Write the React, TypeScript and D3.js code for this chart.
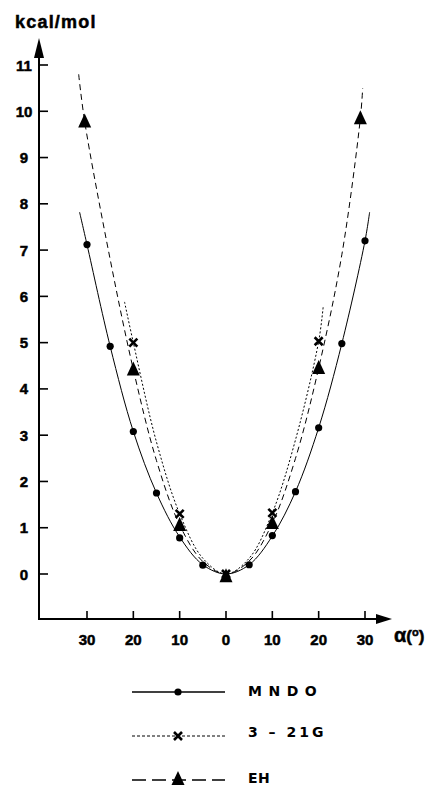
import React from "react";
import * as d3 from "d3";

// Marker data (angle in degrees, energy kcal/mol)
const mndoX = [-30, -25, -20, -15, -10, -5, 0, 5, 10, 15, 20, 25, 30];
const mndoY = [7.12, 4.92, 3.08, 1.75, 0.78, 0.19, -0.05, 0.2, 0.83, 1.78, 3.16, 4.98, 7.2];
const g321X = [-20, -10, 0, 10, 20];
const g321Y = [5.0, 1.3, 0.0, 1.32, 5.03];
const ehX = [-30.5, -20, -10, 0, 10, 20, 29];
const ehY = [9.78, 4.42, 1.06, -0.05, 1.1, 4.45, 9.85];

// Curve points (fitted lines as drawn, including their extended ends)
const mndoCurveX = [-31.6, -30, -25, -20, -15, -10, -5, 0, 5, 10, 15, 20, 25, 30, 31];
const mndoCurveY = [7.82, 7.12, 4.92, 3.08, 1.75, 0.8, 0.2, 0.0, 0.2, 0.82, 1.78, 3.16, 4.98, 7.2, 7.82];
const g321CurveX = [-21.9, -20, -15, -10, -5, 0, 5, 10, 15, 20, 21];
const g321CurveY = [5.88, 5.0, 2.85, 1.3, 0.34, 0.0, 0.34, 1.32, 2.9, 5.03, 5.8];
const ehCurveX = [-31.8, -30.5, -25, -20, -15, -10, -5, 0, 5, 10, 15, 20, 25, 29, 29.5];
const ehCurveY = [10.8, 9.78, 6.8, 4.42, 2.45, 1.06, 0.27, 0.0, 0.28, 1.1, 2.5, 4.45, 6.9, 9.85, 10.5];

const xTicks = [-30, -20, -10, 0, 10, 20, 30];
const yTicks = [0, 1, 2, 3, 4, 5, 6, 7, 8, 9, 10, 11];

const legendLabels = ["MNDO", "3 – 21G", "EH"];

const FONT = "'Liberation Sans', Arial, Helvetica, sans-serif";
const LEGFONT = "'DejaVu Sans', 'Liberation Sans', sans-serif";

export default function App() {
  const W = 441, H = 788;
  const x = d3.scaleLinear().domain([-30, 30]).range([87, 365]);
  const y = d3.scaleLinear().domain([0, 11]).range([574, 65]);
  const axisX = 39;
  const axisY = 619;

  const line = d3
    .line<[number, number]>()
    .x((d) => x(d[0]))
    .y((d) => y(d[1]))
    .curve(d3.curveCatmullRom.alpha(0.5));

  const zip = (a: number[], b: number[]) => a.map((v, i) => [v, b[i]] as [number, number]);

  const triPath = "M0,-8L6.5,6L-6.5,6Z";
  const xPath = "M-4,-4L4,4M4,-4L-4,4";

  const legY = [692, 736, 780];
  const legTextY = [696, 737, 783];
  const legSpacing = [6.5, 3, 0.5];

  const heavy = { stroke: "#000", strokeWidth: 0.5 };

  return (
    <svg
      width={W}
      height={H}
      style={{ position: "absolute", left: 0, top: 0, display: "block", background: "#fff" }}
      fontFamily={FONT}
    >
      {/* axes */}
      <line x1={axisX} y1={axisY} x2={axisX} y2={52} stroke="#000" strokeWidth={2} />
      <path d={`M${axisX},38L${axisX + 5},58L${axisX - 5},58Z`} fill="#000" />
      <line x1={axisX - 1} y1={axisY} x2={380} y2={axisY} stroke="#000" strokeWidth={2} />
      <path d={`M392,${axisY}L376,${axisY - 5}L376,${axisY + 5}Z`} fill="#000" />

      {yTicks.map((t) => (
        <g key={"yt" + t}>
          <line x1={axisX} x2={axisX + 9} y1={y(t)} y2={y(t)} stroke="#000" strokeWidth={1.6} />
          <text x={24} y={y(t) + 5.5} textAnchor="middle" fontSize={15} fontWeight="bold" {...heavy}>
            {t}
          </text>
        </g>
      ))}
      {xTicks.map((t) => (
        <g key={"xt" + t}>
          <line x1={x(t)} x2={x(t)} y1={axisY} y2={axisY - 8} stroke="#000" strokeWidth={1.6} />
          <text x={x(t)} y={645} textAnchor="middle" fontSize={15} fontWeight="bold" {...heavy}>
            {Math.abs(t)}
          </text>
        </g>
      ))}

      <text x={15} y={28} fontSize={18} fontWeight="bold" letterSpacing={1.2} {...heavy}>kcal/mol</text>
      <text x={394} y={642} fontSize={17} fontWeight="bold" {...heavy}>
        <tspan fontSize={20}>α</tspan>(
        <tspan fontSize={11} dy={-6}>o</tspan>
        <tspan dy={6}>)</tspan>
      </text>

      {/* curves */}
      <path d={line(zip(mndoCurveX, mndoCurveY)) || ""} fill="none" stroke="#000" strokeWidth={1} />
      <path d={line(zip(g321CurveX, g321CurveY)) || ""} fill="none" stroke="#000" strokeWidth={1} strokeDasharray="2,2" />
      <path d={line(zip(ehCurveX, ehCurveY)) || ""} fill="none" stroke="#000" strokeWidth={1} strokeDasharray="6,4" />

      {/* markers */}
      {mndoX.map((v, i) => (
        <circle key={"m" + i} cx={x(v)} cy={y(mndoY[i])} r={3.6} fill="#000" />
      ))}
      {g321X.map((v, i) => (
        <path key={"g" + i} d={xPath} transform={`translate(${x(v)},${y(g321Y[i])})`} stroke="#000" strokeWidth={2.6} fill="none" />
      ))}
      {ehX.map((v, i) => (
        <path key={"e" + i} d={triPath} transform={`translate(${x(v)},${y(ehY[i])})`} fill="#000" />
      ))}

      {/* legend */}
      <line x1={132} x2={225} y1={legY[0]} y2={legY[0]} stroke="#000" strokeWidth={1.6} />
      <circle cx={178} cy={legY[0]} r={3.6} fill="#000" />
      <line x1={132} x2={225} y1={legY[1]} y2={legY[1]} stroke="#000" strokeWidth={1} strokeDasharray="3,2" />
      <path d={xPath} transform={`translate(178,${legY[1]})`} stroke="#000" strokeWidth={2.6} />
      <line x1={132} x2={225} y1={legY[2]} y2={legY[2]} stroke="#000" strokeWidth={1.6} strokeDasharray="14,6" />
      <path d={triPath} transform={`translate(178,${legY[2] - 1})`} fill="#000" />
      {legendLabels.map((l, i) => (
        <text key={l} x={248} y={legTextY[i]} fontFamily={LEGFONT} fontSize={14} fontWeight="bold" letterSpacing={legSpacing[i]}>
          {l}
        </text>
      ))}
    </svg>
  );
}
